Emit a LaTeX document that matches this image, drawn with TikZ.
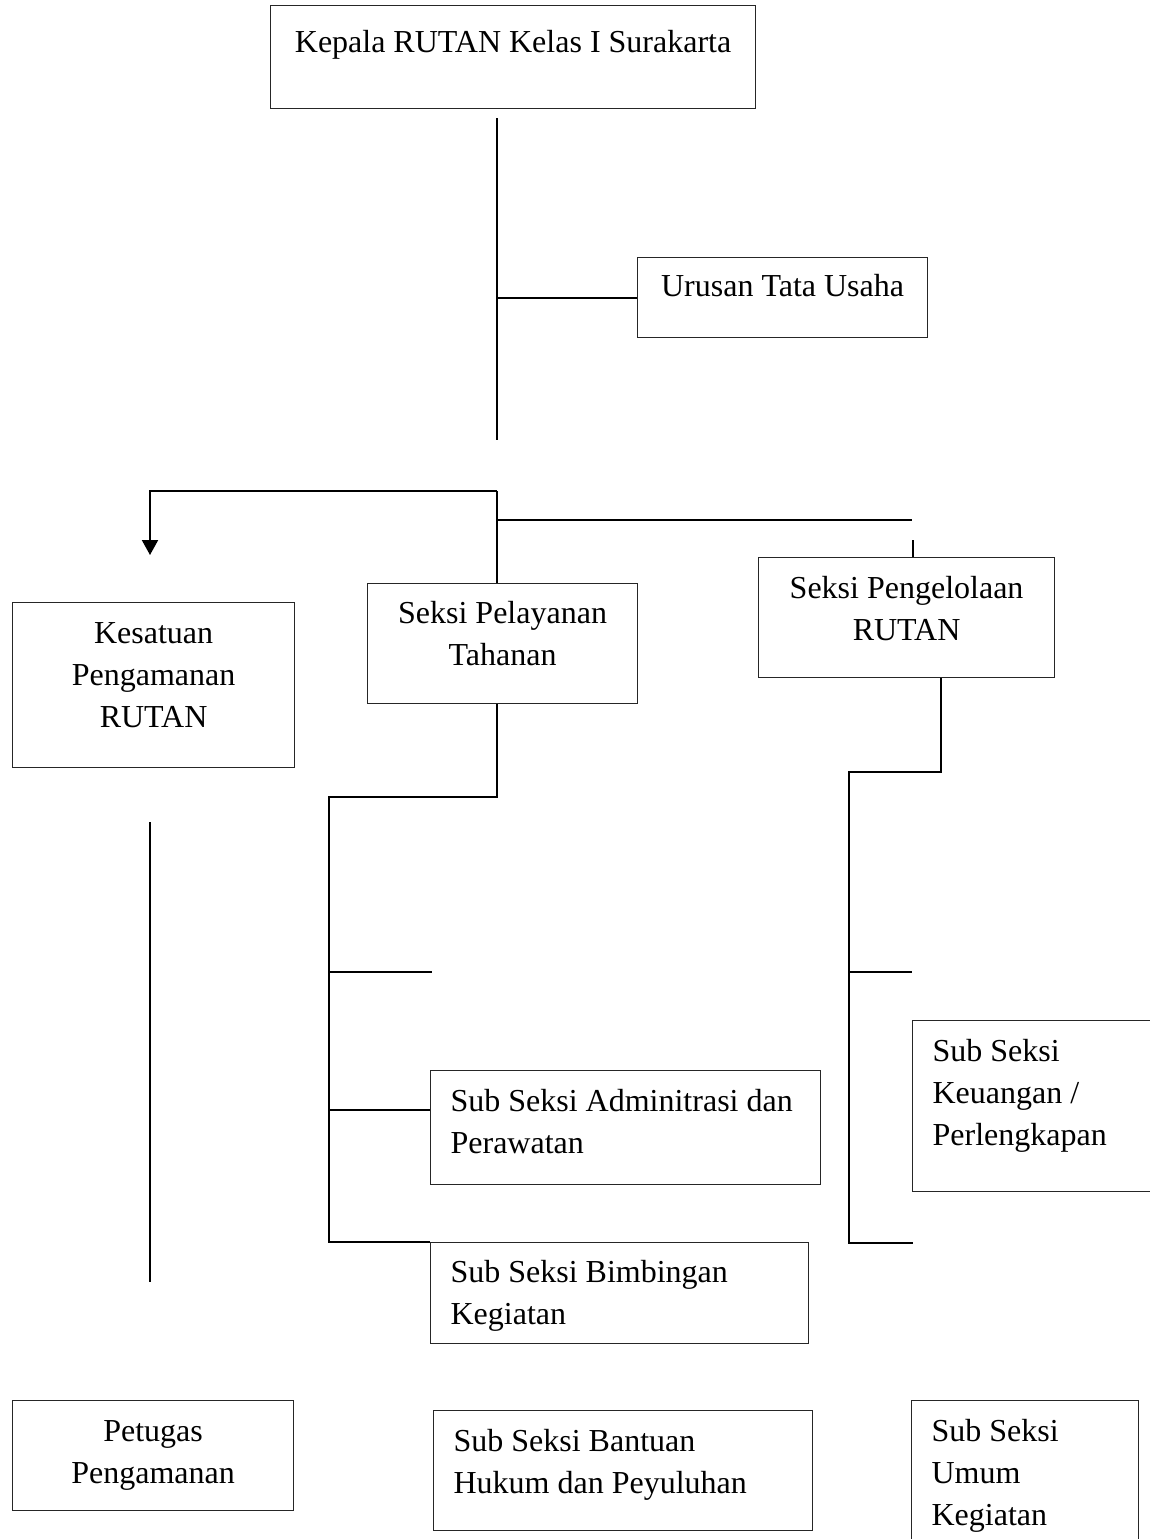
\documentclass[tikz,border=0pt]{standalone}
\usepackage{fontspec}
\setmainfont{Liberation Serif}
\usetikzlibrary{arrows.meta}

\newcommand{\midtext}[4][20.5pt]{\parbox[c][#3][t]{#2}{\centering\rule{0pt}{#1}#4\par}}
\newcommand{\padtext}[4][20.5pt]{\parbox[c][#3][t]{#2}{\raggedright\leftskip=10pt\rule{0pt}{#1}#4\par}}

\begin{document}
\begin{tikzpicture}[
  x=0.5pt, y=-0.5pt,
  font=\fontsize{16}{21}\selectfont,
  unitbox/.style={draw=black!85, line width=0.6pt, inner sep=0pt, anchor=north west},
  link/.style={draw=black, line width=1pt},
  downlink/.style={-{Triangle[width=8pt,length=7.5pt]}, draw=black, line width=1pt}
]
  \useasboundingbox (0,0) rectangle (1150,1539);
  \clip (0,0) rectangle (1150,1539);

  \node[unitbox] (kepala) at (270,5) {\midtext[23.5pt]{242.5pt}{51.5pt}{Kepala RUTAN Kelas I Surakarta}};
  \node[unitbox] (urusan) at (637,257) {\midtext[19.5pt]{145pt}{40pt}{Urusan Tata Usaha}};
  \node[unitbox] (kesatuan) at (12,602) {\midtext{141pt}{82.5pt}{Kesatuan\\Pengamanan\\RUTAN}};
  \node[unitbox] (pelayanan) at (367,583) {\midtext[20pt]{135pt}{60pt}{Seksi Pelayanan\\Tahanan}};
  \node[unitbox] (pengelolaan) at (758,557) {\midtext{148pt}{60pt}{Seksi Pengelolaan\\RUTAN}};
  \node[unitbox] (admin) at (430,1070) {\padtext{195pt}{57pt}{Sub Seksi Adminitrasi dan\\Perawatan}};
  \node[unitbox] (bimbingan) at (430,1242) {\padtext[20pt]{189pt}{50.5pt}{Sub Seksi Bimbingan\\Kegiatan}};
  \node[unitbox] (keuangan) at (912,1020) {\padtext{130pt}{85.5pt}{Sub Seksi\\Keuangan /\\Perlengkapan}};
  \node[unitbox] (petugas) at (12,1400) {\midtext{140.5pt}{55pt}{Petugas\\Pengamanan}};
  \node[unitbox] (bantuan) at (433,1410) {\padtext{189.5pt}{60pt}{Sub Seksi Bantuan\\Hukum dan Peyuluhan}};
  \node[unitbox] (umum) at (911,1400) {\padtext{113.5pt}{80pt}{Sub Seksi\\Umum\\Kegiatan}};

  \coordinate (spinetop) at (497,118);
  \coordinate (spinebot) at (497,440);
  \coordinate (hub) at (497,491);
  \coordinate (tip) at (150,555);
  \coordinate (rightend) at (912,520);
  \coordinate (tick) at (913,540);
  \coordinate (lspine) at (329,797);
  \coordinate (lstub) at (432,972);
  \coordinate (adminjoin) at (329,1110);
  \coordinate (rspine) at (849,772);
  \coordinate (rstub) at (912,972);
  \coordinate (rlow) at (913,1243);
  \coordinate (guardtop) at (150,822);
  \coordinate (guardbot) at (150,1282);

  \draw[link] (spinetop) -- (spinebot);
  \draw[link] (spinetop |- urusan.west) -- (urusan.west);
  \draw[downlink] (hub) -| (tip);
  \draw[link] (hub) -- (hub |- pelayanan.north);
  \draw[link] (hub |- rightend) -- (rightend);
  \draw[link] (tick) -- (tick |- pengelolaan.north);
  \draw[link] (hub |- pelayanan.south) |- (lspine) -- (lspine |- bimbingan.north) -- (bimbingan.north west);
  \draw[link] (lspine |- lstub) -- (lstub);
  \draw[link] (adminjoin) -- (adminjoin -| admin.west);
  \draw[link] ([xshift=17pt]pengelolaan.south) |- (rspine) -- (rspine |- rlow) -- (rlow);
  \draw[link] (rspine |- rstub) -- (rstub);
  \draw[link] (guardtop) -- (guardbot);
\end{tikzpicture}
\end{document}
